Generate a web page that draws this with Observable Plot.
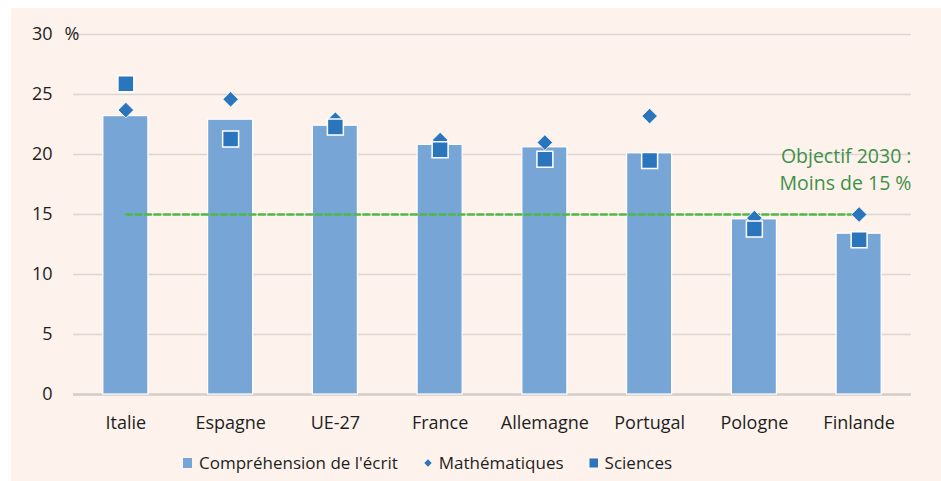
<!DOCTYPE html>
<html>
<head>
<meta charset="utf-8">
<script src="https://cdn.jsdelivr.net/npm/d3@7"></script>
<script src="https://cdn.jsdelivr.net/npm/@observablehq/plot@0.6"></script>
<style>
  html, body { margin: 0; padding: 0; background: #ffffff; }
  #panel {
    position: absolute; left: 11px; top: 8px; width: 930px; height: 473px;
    background: #fdf2ec;
    font-family: "Open Sans", sans-serif; color: #1e1e1e;
  }
  #legend {
    display: flex; align-items: center; padding-left: 172px; margin-top: 13px;
    font-size: 17px; color: #1e1e1e;
  }
  #legend .item { display: flex; align-items: center; margin-right: 25px; }
  #legend svg { margin-right: 6px; }
</style>
</head>
<body>
<div id="panel">
  <div id="chart"></div>
  <div id="legend"></div>
</div>
<script>
const countries = ["Italie", "Espagne", "UE-27", "France", "Allemagne", "Portugal", "Pologne", "Finlande"];
const lecture  = [23.2, 22.9, 22.4, 20.8, 20.6, 20.1, 14.6, 13.4];
const maths    = [23.7, 24.6, 22.9, 21.2, 21.0, 23.2, 14.7, 15.0];
const sciences = [25.9, 21.3, 22.3, 20.4, 19.6, 19.5, 13.8, 12.9];
const yTicks = [0, 5, 10, 15, 20, 25, 30];
const target = 15;
const seriesNames = ["Compréhension de l'écrit", "Mathématiques", "Sciences"];
const targetLabel = "Objectif 2030 :\nMoins de 15 %";

const barColor = "#77a6d6";
const markColor = "#2a75bb";
const green = "#4fb848";

const rows = countries.map((c, i) => ({country: c, lecture: lecture[i], maths: maths[i], sciences: sciences[i]}));

const chart = Plot.plot({
  width: 930,
  height: 430,
  marginLeft: 62,
  marginRight: 30,
  marginTop: 26,
  marginBottom: 44,
  style: {fontSize: "18px", fontFamily: "'Open Sans', sans-serif", color: "#1e1e1e", background: "transparent", overflow: "visible"},
  x: {domain: countries, paddingInner: 0.57, paddingOuter: 0.285, round: false, label: null},
  y: {domain: [0, 30], label: null},
  marks: [
    Plot.gridY(yTicks.filter(d => d > 0), {stroke: "#dcd7d2", strokeOpacity: 1, strokeWidth: 1.5}),
    Plot.ruleY([0], {stroke: "#d2cdc9", strokeWidth: 2.5}),
    Plot.barY(rows, {x: "country", y: "lecture", fill: barColor, stroke: "#ffffff", strokeWidth: 1.2}),
    Plot.lineY(rows, {x: "country", y: () => target, stroke: green, strokeWidth: 2.5, strokeDasharray: "6,3.5"}),
    Plot.dot(rows, {x: "country", y: "maths", symbol: "diamond2", r: 7, fill: markColor, stroke: "#ffffff", strokeWidth: 0.8}),
    Plot.dot(rows, {x: "country", y: "sciences", symbol: "square", r: 9, fill: markColor, stroke: "#ffffff", strokeWidth: 1.5}),
    Plot.text([target], {y: d => d, text: () => targetLabel, frameAnchor: "right", textAnchor: "end", lineAnchor: "bottom", lineHeight: 1.37, dy: -25, fill: "#3d9146", fontSize: 19.5}),
    Plot.text([30], {y: d => d, text: () => "%", frameAnchor: "left", textAnchor: "start", dx: -9, fill: "#1e1e1e"}),
    Plot.axisY({ticks: yTicks, tickSize: 0, tickPadding: 21, label: null}),
    Plot.axisX({tickSize: 0, tickPadding: 22, label: null})
  ]
});
document.getElementById("chart").appendChild(chart);

// Legend
const legend = document.getElementById("legend");
const symbols = [
  `<svg width="10" height="12"><rect x="0" y="1" width="9" height="10" fill="${barColor}"/></svg>`,
  `<svg width="10" height="12"><path d="M5,2.3 L8.7,6 L5,9.7 L1.3,6 Z" fill="${markColor}"/></svg>`,
  `<svg width="10" height="12"><rect x="0.5" y="1.5" width="8.5" height="9" fill="${markColor}"/></svg>`
];
seriesNames.forEach((name, i) => {
  const item = document.createElement("div");
  item.className = "item";
  item.innerHTML = symbols[i] + `<span>${name}</span>`;
  legend.appendChild(item);
});
</script>
</body>
</html>
